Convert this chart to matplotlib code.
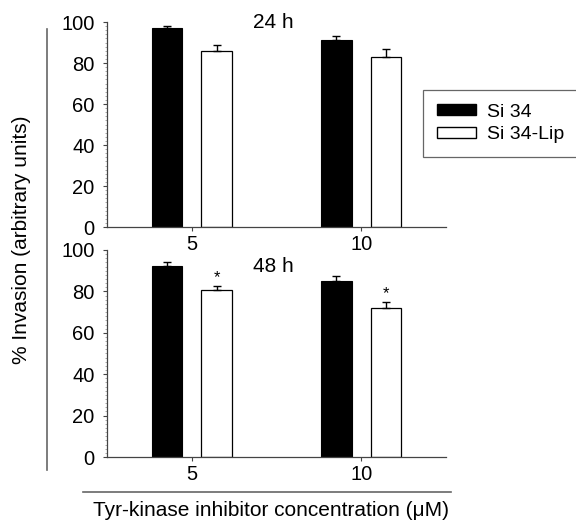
import matplotlib.pyplot as plt
import numpy as np
from matplotlib.patches import Patch
from matplotlib.ticker import AutoMinorLocator
from matplotlib.lines import Line2D

plt.rcParams['font.family'] = ['Liberation Sans', 'DejaVu Sans']

concentrations = ['5', '10']
si34_24h = [97, 91]
si34_24h_err = [1.2, 2.0]
lip_24h = [86, 83]
lip_24h_err = [3.0, 4.0]
si34_48h = [92.5, 85]
si34_48h_err = [1.5, 2.5]
lip_48h = [80.5, 72]
lip_48h_err = [2.0, 3.0]
panels = ['24 h', '48 h']
signif_48h = [True, True]

fig = plt.figure(figsize=(5.76, 5.22), dpi=100)
ax_top = fig.add_axes([0.1858, 0.5651, 0.5885, 0.3927])
ax_bot = fig.add_axes([0.1858, 0.1245, 0.5885, 0.3966])
ax_bot.patch.set_visible(False)

x = np.arange(len(concentrations))
w = 0.18
off = 0.147
spine_col = '#444444'


def draw_panel(ax, black, black_err, white, white_err, label, label_y, stars=None):
    n = len(black)
    ax.bar(x - off, black, w, color='black', edgecolor='black', linewidth=0.8,
           yerr=[np.zeros(n), black_err], capsize=3,
           error_kw=dict(ecolor='black', elinewidth=1, capthick=1))
    ax.bar(x + off, white, w, color='white', edgecolor='black', linewidth=0.9,
           yerr=[np.zeros(n), white_err], capsize=3,
           error_kw=dict(ecolor='black', elinewidth=1, capthick=1))
    if stars is not None:
        for i, s in enumerate(stars):
            if s:
                ax.text(x[i] + off, white[i] + white_err[i] + 0.5, '*',
                        ha='center', va='bottom', fontsize=12)
    ax.set_xlim(-0.5, 1.5)
    ax.set_ylim(0, 100)
    ax.set_xticks(x)
    ax.set_xticklabels(concentrations)
    ax.set_yticks(np.arange(0, 101, 20))
    ax.yaxis.set_minor_locator(AutoMinorLocator(10))
    ax.tick_params(axis='both', which='major', labelsize=14.5, length=3,
                   color=spine_col, width=0.8)
    ax.tick_params(axis='y', pad=6)
    ax.tick_params(axis='x', pad=3)
    ax.tick_params(axis='y', which='minor', length=1.5, width=0.5, color='#888888')
    for side in ['top', 'right']:
        ax.spines[side].set_visible(False)
    for side in ['left', 'bottom']:
        ax.spines[side].set_color(spine_col)
        ax.spines[side].set_linewidth(0.9)
    ax.text(0.48, label_y, label, ha='center', va='center', fontsize=15,
            clip_on=False)


draw_panel(ax_top, si34_24h, si34_24h_err, lip_24h, lip_24h_err, panels[0], 100)
draw_panel(ax_bot, si34_48h, si34_48h_err, lip_48h, lip_48h_err, panels[1], 92,
           stars=signif_48h)

# outer bracket lines
fig.add_artist(Line2D([0.0816, 0.0816], [0.0996, 0.9444], color='#666666',
                      linewidth=1.2, transform=fig.transFigure))
fig.add_artist(Line2D([0.144, 0.783], [0.0575, 0.0575], color='#666666',
                      linewidth=1.2, transform=fig.transFigure))

fig.text(0.038, 0.54, '% Invasion (arbitrary units)', rotation=90,
         ha='center', va='center', fontsize=15)
fig.text(0.47, 0.022, 'Tyr-kinase inhibitor concentration (\u03bcM)',
         ha='center', va='center', fontsize=15)

handles = [Patch(facecolor='black', edgecolor='black', label='Si 34'),
           Patch(facecolor='white', edgecolor='black', label='Si 34-Lip')]
leg = fig.legend(handles=handles, loc='upper left',
                 bbox_to_anchor=(423 / 576, 1 - 90 / 522),
                 fontsize=14, fancybox=False, framealpha=1,
                 edgecolor='#666666', handlelength=2.05, handleheight=0.45,
                 handletextpad=0.55, borderpad=0.7, labelspacing=0.3,
                 borderaxespad=0)
leg.get_frame().set_linewidth(0.9)

fig.savefig('out.png', dpi=100)
